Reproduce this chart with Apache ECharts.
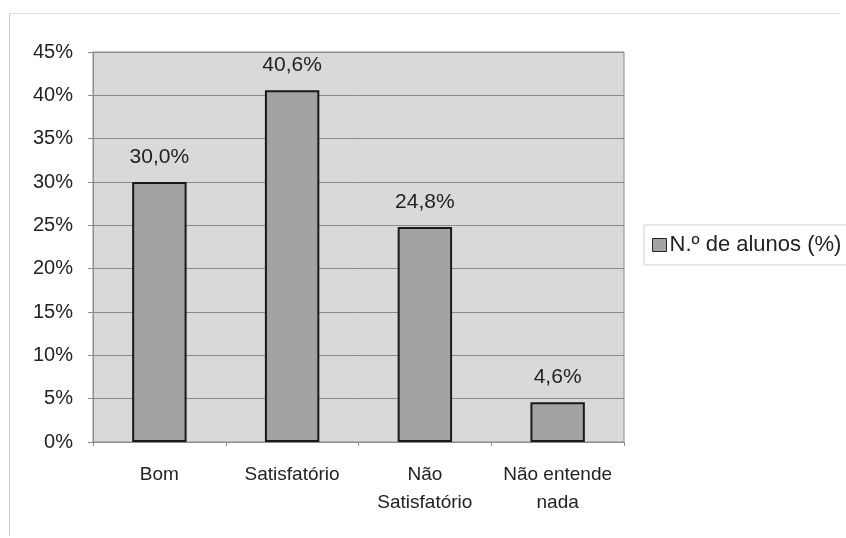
<!DOCTYPE html>
<html>
<head>
<meta charset="utf-8">
<script src="https://cdn.jsdelivr.net/npm/echarts@6/dist/echarts.min.js"></script>
<style>
html,body{margin:0;padding:0;background:#fff;}
#chart{width:846px;height:538px;}
</style>
</head>
<body>
<div id="chart"></div>
<script>
var categories = ['Bom', 'Satisfatório', 'Não\nSatisfatório', 'Não entende\nnada'];
var values = [30.0, 40.6, 24.8, 4.6];
var seriesName = 'N.º de alunos (%)';
var yTicks = [0, 5, 10, 15, 20, 25, 30, 35, 40, 45];

var chart = echarts.init(document.getElementById('chart'));
var font = '"Liberation Sans", Arial, sans-serif';
chart.setOption({
  animation: false,
  backgroundColor: '#ffffff',
  textStyle: { fontFamily: font },
  grid: { left: 93, top: 52, right: 222, bottom: 96, show: true, backgroundColor: '#d9d9d9', borderColor: '#8c8c8c', borderWidth: 1 },
  legend: {
    data: [seriesName],
    left: 644, top: 225,
    padding: [9, 8, 9, 8],
    itemWidth: 14, itemHeight: 13, itemGap: 4,
    icon: 'rect',
    borderColor: '#cfcfcf', borderWidth: 1,
    textStyle: { fontSize: 22, color: '#222', fontFamily: font, padding: [0, 0, 0, -2] },
    itemStyle: { borderColor: '#222', borderWidth: 1 }
  },
  xAxis: {
    type: 'category',
    data: categories,
    axisLine: { lineStyle: { color: '#8c8c8c' } },
    axisTick: { show: true, length: 4, lineStyle: { color: '#8c8c8c' } },
    axisLabel: { interval: 0, fontSize: 19, color: '#222', margin: 19, lineHeight: 28, fontFamily: font }
  },
  yAxis: {
    type: 'value',
    min: yTicks[0], max: yTicks[yTicks.length - 1], interval: 5,
    axisLine: { show: true, lineStyle: { color: '#8c8c8c' } },
    axisTick: { show: true, length: 5, lineStyle: { color: '#8c8c8c' } },
    splitLine: { lineStyle: { color: '#8a8a8a', width: 1 } },
    axisLabel: { fontSize: 20, color: '#222', margin: 20, fontFamily: font, formatter: function (v) { return v + '%'; } }
  },
  series: [{
    name: seriesName,
    type: 'bar',
    data: values,
    barWidth: '41%',
    itemStyle: { color: '#a3a3a3', borderColor: '#1a1a1a', borderWidth: 2 },
    label: {
      show: true, position: 'top', distance: 14,
      fontSize: 21, color: '#222', fontFamily: font,
      formatter: function (p) { return p.value.toFixed(1).replace('.', ',') + '%'; }
    }
  }],
  graphic: [
    { type: 'line', shape: { x1: 9.5, y1: 13, x2: 9.5, y2: 536 }, style: { stroke: '#cccccc', lineWidth: 1 } },
    { type: 'line', shape: { x1: 9.5, y1: 13.5, x2: 840, y2: 13.5 }, style: { stroke: '#dddddd', lineWidth: 1 } }
  ]
});
</script>
</body>
</html>
